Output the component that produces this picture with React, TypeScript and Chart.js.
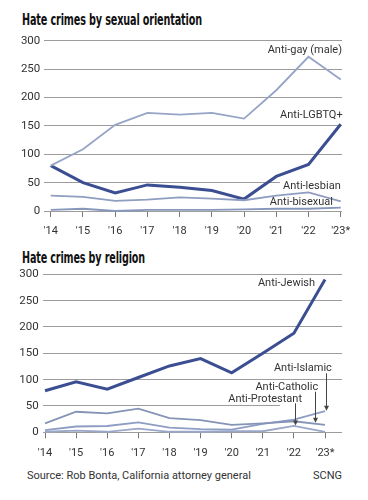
import React, { useEffect, useLayoutEffect, useRef } from "react";
import { Chart, registerables } from "chart.js";

Chart.register(...registerables);

// ---- data ----
const years = [2014, 2015, 2016, 2017, 2018, 2019, 2020, 2021, 2022, 2023];
const xTickLabels = ["'14", "'15", "'16", "'17", "'18", "'19", "'20", "'21", "'22", "'23*"];
const yTickValues = [0, 50, 100, 150, 200, 250, 300];

const antiGayMale = [80, 109, 152, 173, 170, 173, 163, 213, 272, 232];
const antiLGBTQ = [80, 50, 32, 46, 42, 36, 21, 61, 82, 153];
const antiLesbian = [27, 25, 18, 20, 24, 22, 19, 27, 33, 17];
const antiBisexual = [2, 4, 0, 2, 2, 2, 3, 4, 4, 6];

const antiJewish = [79, 96, 82, 104, 126, 140, 113, 150, 188, 290];
const antiIslamic = [4, 11, 12, 19, 9, 6, 5, 16, 24, 40];
const antiCatholic = [17, 39, 36, 45, 27, 23, 14, 17, 21, 14];
const antiProtestant = [1, 3, 1, 7, 1, 1, 2, 2, 12, 1];

const DARK = "#3b4e92";
const FONT = "Roboto, 'Noto Sans', sans-serif";
const TEXT = "#333";

const toPoints = (vals: number[]) => vals.map((v, i) => ({ x: years[i], y: v }));

const series = (label: string, vals: number[], color: string, width: number) => ({
  label,
  data: toPoints(vals),
  borderColor: color,
  backgroundColor: color,
  borderWidth: width,
  pointRadius: 0,
  tension: 0,
  clip: false as any,
  borderJoinStyle: "miter" as const,
});

const annotPlugin = {
  id: "annots",
  beforeDatasetsDraw(chart: any, _a: any, opts: any) {
    const ctx = chart.ctx;
    const xs = chart.scales.x;
    const ys = chart.scales.y;
    ctx.save();
    ctx.fillStyle = "#fff";
    (opts.masks || []).forEach((m: any) => {
      const x1 = xs.getPixelForValue(m.x1);
      const x2 = m.x2 === "right" ? chart.chartArea.right + 2 : xs.getPixelForValue(m.x2);
      const y1 = ys.getPixelForValue(m.y1);
      const y2 = ys.getPixelForValue(m.y2);
      ctx.fillRect(x1, Math.min(y1, y2), x2 - x1, Math.abs(y2 - y1));
    });
    ctx.font = "11px " + FONT;
    (opts.labels || []).forEach((l: any) => {
      if (!l.bg) return;
      const w = ctx.measureText(l.text).width;
      const xr = xs.getPixelForValue(l.x);
      const yc = ys.getPixelForValue(l.y);
      ctx.fillRect(xr - w - 3, yc - 7, w + 6, 14);
    });
    ctx.restore();
  },
  afterDatasetsDraw(chart: any, _a: any, opts: any) {
    const ctx = chart.ctx;
    const xs = chart.scales.x;
    const ys = chart.scales.y;
    ctx.save();
    ctx.font = "11px " + FONT;
    ctx.fillStyle = TEXT;
    ctx.textAlign = "right";
    ctx.textBaseline = "middle";
    (opts.labels || []).forEach((l: any) => {
      ctx.fillText(l.text, xs.getPixelForValue(l.x), ys.getPixelForValue(l.y));
    });
    ctx.strokeStyle = "#444";
    ctx.fillStyle = "#444";
    ctx.lineWidth = 1;
    (opts.arrows || []).forEach((a: any) => {
      const x = Math.round(xs.getPixelForValue(a.x)) + 0.5;
      const y1 = ys.getPixelForValue(a.y1);
      const y2 = ys.getPixelForValue(a.y2);
      ctx.beginPath();
      ctx.moveTo(x, y1);
      ctx.lineTo(x, y2 - 3);
      ctx.stroke();
      ctx.beginPath();
      ctx.moveTo(x - 2.5, y2 - 5);
      ctx.lineTo(x + 2.5, y2 - 5);
      ctx.lineTo(x, y2);
      ctx.closePath();
      ctx.fill();
    });
    ctx.restore();
  },
};

type ChartSpec = {
  datasets: any[];
  xMin: number;
  xMax: number;
  yAxisWidth: number;
  xAxisHeight: number;
  xTickPadding: number;
  padTop: number;
  padRight: number;
  annots: any;
};

function LineChart({ spec, width, height, top }: { spec: ChartSpec; width: number; height: number; top: number }) {
  const ref = useRef<HTMLCanvasElement | null>(null);
  useEffect(() => {
    if (!ref.current) return;
    const chart = new Chart(ref.current, {
      type: "line",
      data: { datasets: spec.datasets },
      options: {
        animation: false,
        responsive: false,
        maintainAspectRatio: false,
        layout: { padding: { top: spec.padTop, right: spec.padRight, left: 0, bottom: 0 } },
        plugins: {
          legend: { display: false },
          tooltip: { enabled: false },
          annots: spec.annots,
        } as any,
        scales: {
          x: {
            type: "linear",
            min: spec.xMin,
            max: spec.xMax,
            afterBuildTicks: (s: any) => {
              s.ticks = years.map((v) => ({ value: v }));
            },
            afterFit: (s: any) => {
              s.height = spec.xAxisHeight;
            },
            ticks: {
              autoSkip: false,
              maxRotation: 0,
              padding: spec.xTickPadding,
              color: TEXT,
              font: { family: FONT, size: 11 },
              callback: (_v: any, i: number) => xTickLabels[i],
            },
            grid: {
              drawOnChartArea: false,
              drawTicks: true,
              tickLength: 6,
              color: "#777",
              lineWidth: 1,
            },
            border: { display: false },
          },
          y: {
            min: 0,
            max: 300,
            afterBuildTicks: (s: any) => {
              s.ticks = yTickValues.map((v) => ({ value: v }));
            },
            afterFit: (s: any) => {
              s.width = spec.yAxisWidth;
            },
            ticks: {
              padding: 4,
              color: TEXT,
              font: { family: FONT, size: 11.5 },
            },
            grid: { color: "#9c9c9c", lineWidth: 1, drawTicks: false },
            border: { display: false },
          },
        },
      },
      plugins: [annotPlugin],
    });
    return () => chart.destroy();
  }, []);
  return (
    <canvas
      ref={ref}
      width={width}
      height={height}
      style={{ position: "absolute", left: 0, top, width, height }}
    />
  );
}

const topSpec: ChartSpec = {
  datasets: [
    series("Anti-bisexual", antiBisexual, "#8796bb", 1.8),
    series("Anti-lesbian", antiLesbian, "#8f9dc0", 1.8),
    series("Anti-gay (male)", antiGayMale, "#96a4c6", 1.8),
    series("Anti-LGBTQ+", antiLGBTQ, DARK, 3),
  ],
  xMin: 2013.8,
  xMax: 2023.04,
  yAxisWidth: 44.3,
  xAxisHeight: 29,
  xTickPadding: 8,
  padTop: 8,
  padRight: 26,
  annots: {
    labels: [
      { text: "Anti-gay (male)", x: 2023.04, y: 284 },
      { text: "Anti-LGBTQ+", x: 2023.06, y: 168 },
      { text: "Anti-lesbian", x: 2023.0, y: 44, bg: true },
      { text: "Anti-bisexual", x: 2022.76, y: 16 },
    ],
  },
};

const bottomSpec: ChartSpec = {
  datasets: [
    series("Anti-Protestant", antiProtestant, "#9aa7c8", 1.8),
    series("Anti-Catholic", antiCatholic, "#8593b6", 1.8),
    series("Anti-Islamic", antiIslamic, "#8e9dc4", 1.8),
    series("Anti-Jewish", antiJewish, DARK, 3),
  ],
  xMin: 2013.926,
  xMax: 2023.546,
  yAxisWidth: 42.7,
  xAxisHeight: 29.7,
  xTickPadding: 8,
  padTop: 12.3,
  padRight: 26,
  annots: {
    masks: [{ x1: 2021.55, x2: "right", y1: 46, y2: 54 }],
    labels: [
      { text: "Anti-Jewish", x: 2022.68, y: 283 },
      { text: "Anti-Islamic", x: 2023.22, y: 121.5 },
      { text: "Anti-Catholic", x: 2022.78, y: 85.4 },
      { text: "Anti-Protestant", x: 2022.26, y: 62.7 },
    ],
    arrows: [
      { x: 2023.03, y1: 112, y2: 41 },
      { x: 2022.68, y1: 77, y2: 18 },
      { x: 2022.04, y1: 55, y2: 13 },
    ],
  },
};

const titleStyle: React.CSSProperties = {
  position: "absolute",
  left: 22,
  fontFamily: "'Liberation Sans Narrow', 'DejaVu Sans Condensed', 'Roboto', sans-serif",
  fontWeight: 700,
  fontSize: 16,
  lineHeight: "16px",
  color: "#111",
  letterSpacing: "-0.2px",
  whiteSpace: "nowrap",
  transformOrigin: "0 50%",
};

function Title({ text, top, targetWidth }: { text: string; top: number; targetWidth: number }) {
  const ref = useRef<HTMLDivElement | null>(null);
  useLayoutEffect(() => {
    const el = ref.current;
    if (!el) return;
    const w = el.getBoundingClientRect().width;
    if (w > 0) el.style.transform = `scaleX(${targetWidth / w})`;
  }, []);
  return (
    <div ref={ref} style={{ ...titleStyle, top }}>
      {text}
    </div>
  );
}

export default function App() {
  return (
    <div
      style={{
        position: "fixed",
        left: 0,
        top: 0,
        width: 368,
        height: 500,
        background: "#fff",
        overflow: "hidden",
      }}
    >
      <Title text="Hate crimes by sexual orientation" top={11.5} targetWidth={180} />
      <LineChart spec={topSpec} width={368} height={210} top={30} />
      <Title text="Hate crimes by religion" top={249.8} targetWidth={123} />
      <LineChart spec={bottomSpec} width={368} height={200} top={262} />
      <div
        style={{
          position: "absolute",
          left: 27,
          top: 469,
          fontFamily: FONT,
          fontSize: 11,
          lineHeight: "13px",
          color: TEXT,
          whiteSpace: "nowrap",
        }}
      >
        Source: Rob Bonta, California attorney general
      </div>
      <div
        style={{
          position: "absolute",
          right: 26,
          top: 469,
          fontFamily: FONT,
          fontSize: 11,
          lineHeight: "13px",
          color: TEXT,
        }}
      >
        SCNG
      </div>
    </div>
  );
}
